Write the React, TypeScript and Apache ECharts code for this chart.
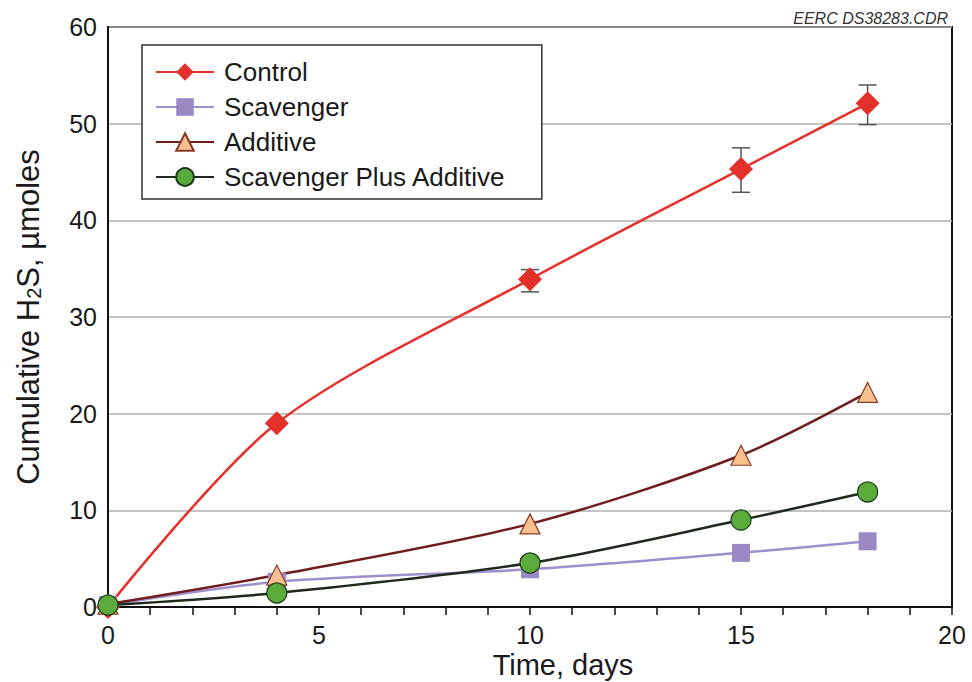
import React, { useEffect, useRef } from "react";
import * as echarts from "echarts";

// Sampling days
const days = [0, 4, 10, 15, 18];

// Cumulative H2S, µmoles
const controlValues = [0, 19.0, 33.9, 45.3, 52.1];
const scavengerValues = [0.2, 2.6, 3.9, 5.6, 6.8];
const additiveValues = [0.3, 3.3, 8.6, 15.7, 22.2];
const scavPlusAddValues = [0.2, 1.45, 4.55, 9.0, 11.9];

// Control error bars: [day, low, high]
const controlErrorDays = [10, 15, 18];
const controlErrorLow = [32.6, 42.9, 49.9];
const controlErrorHigh = [34.9, 47.5, 54.0];

const seriesNames = ["Control", "Scavenger", "Additive", "Scavenger Plus Additive"];
const xTicks = [0, 5, 10, 15, 20];
const yTicks = [0, 10, 20, 30, 40, 50, 60];

const FONT = "Liberation Sans, Arial, sans-serif";

function pairs(xs: number[], ys: number[]) {
  return xs.map((x, i) => [x, ys[i]]);
}

export default function App() {
  const ref = useRef<HTMLDivElement>(null);

  useEffect(() => {
    if (!ref.current) return;
    const chart = echarts.init(ref.current, undefined, { renderer: "svg" });

    const errorData = controlErrorDays.map((d, i) => [d, controlErrorLow[i], controlErrorHigh[i]]);

    chart.setOption({
      animation: false,
      backgroundColor: "#ffffff",
      textStyle: { fontFamily: FONT },
      grid: {
        left: 108,
        right: 20,
        top: 27,
        bottom: 75,
        show: true,
        borderColor: "#111",
        borderWidth: 2,
        backgroundColor: "transparent",
      },
      graphic: [
        {
          type: "text",
          right: 24,
          top: 10,
          style: {
            text: "EERC DS38283.CDR",
            font: "italic 16px " + FONT,
            fill: "#333",
          },
        },
        {
          type: "text",
          x: 563,
          y: 650,
          style: {
            text: "Time, days",
            font: "29px " + FONT,
            fill: "#1a1a1a",
            align: "center",
            verticalAlign: "top",
          },
        },
      ],
      legend: {
        orient: "vertical",
        left: 142,
        top: 45,
        padding: [14, 36, 9, 13],
        itemGap: 9,
        itemWidth: 58,
        itemHeight: 22,
        borderColor: "#333",
        borderWidth: 1.5,
        backgroundColor: "#fff",
        data: seriesNames,
        textStyle: { fontSize: 26, color: "#1a1a1a", fontFamily: FONT, padding: [0, 0, 0, 5] },
      },
      xAxis: {
        type: "value",
        min: 0,
        max: 20,
        interval: 5,
        axisLine: { show: true, onZero: false, lineStyle: { color: "#111", width: 2 } },
        axisTick: { show: true, inside: false, length: 8, lineStyle: { color: "#111", width: 1.5 } },
        minorTick: { show: true, splitNumber: 5, length: 8, lineStyle: { color: "#111", width: 1.5 } },
        splitLine: { show: false },
        axisLabel: {
          fontSize: 25,
          lineHeight: 25,
          color: "#1a1a1a",
          margin: 15,
          formatter: (v: number) => (xTicks.includes(v) ? String(v) : ""),
        },
      },
      yAxis: {
        type: "value",
        min: 0,
        max: 60,
        interval: 10,
        name: "Cumulative H{sub|2}S, µmoles",
        nameLocation: "middle",
        nameGap: 64,
        nameTextStyle: {
          fontSize: 31,
          color: "#1a1a1a",
          fontFamily: FONT,
          rich: {
            sub: { fontSize: 20, verticalAlign: "bottom", padding: [12, 0, 0, 0], fontFamily: FONT, color: "#1a1a1a" },
          },
        },
        axisLine: { show: true, onZero: false, lineStyle: { color: "#111", width: 2 } },
        axisTick: { show: false },
        splitLine: { show: true, lineStyle: { color: "#b0b0b0", width: 1.5 } },
        axisLabel: {
          fontSize: 25,
          color: "#1a1a1a",
          margin: 11,
          formatter: (v: number) => (yTicks.includes(v) ? String(v) : ""),
        },
      },
      series: [
        {
          type: "custom",
          name: "ControlError",
          z: 1,
          silent: true,
          data: errorData,
          renderItem: (params: any, api: any) => {
            const lo = api.coord([api.value(0), api.value(1)]);
            const hi = api.coord([api.value(0), api.value(2)]);
            const half = 9;
            const style = { stroke: "#555", lineWidth: 1.5 };
            return {
              type: "group",
              children: [
                { type: "line", shape: { x1: lo[0], y1: lo[1], x2: hi[0], y2: hi[1] }, style },
                { type: "line", shape: { x1: lo[0] - half, y1: lo[1], x2: lo[0] + half, y2: lo[1] }, style },
                { type: "line", shape: { x1: hi[0] - half, y1: hi[1], x2: hi[0] + half, y2: hi[1] }, style },
              ],
            };
          },
        },
        {
          name: seriesNames[0],
          type: "line",
          z: 3,
          smooth: 0.3,
          data: pairs(days, controlValues),
          symbol: "diamond",
          symbolSize: 24,
          lineStyle: { color: "#e8302a", width: 2.5 },
          itemStyle: { color: "#e3302b", borderColor: "#e3302b", borderWidth: 0 },
        },
        {
          name: seriesNames[1],
          type: "line",
          z: 3,
          smooth: 0.3,
          data: pairs(days, scavengerValues),
          symbol: "rect",
          symbolSize: 18,
          lineStyle: { color: "#9d90cc", width: 2.5 },
          itemStyle: { color: "#9b89c6", borderColor: "#9b89c6", borderWidth: 0 },
        },
        {
          name: seriesNames[2],
          type: "line",
          z: 3,
          smooth: 0.3,
          data: pairs(days, additiveValues),
          symbol: "triangle",
          symbolSize: 20,
          lineStyle: { color: "#6e1c1c", width: 2.5 },
          itemStyle: { color: "#f9c08e", borderColor: "#8b3a2a", borderWidth: 1.2 },
        },
        {
          name: seriesNames[3],
          type: "line",
          z: 3,
          smooth: 0.3,
          data: pairs(days, scavPlusAddValues),
          symbol: "circle",
          symbolSize: 20,
          lineStyle: { color: "#1d2a1d", width: 2.5 },
          itemStyle: { color: "#5bab3c", borderColor: "#1f3a1a", borderWidth: 1.2 },
        },
      ],
    });

    return () => chart.dispose();
  }, []);

  return <div ref={ref} style={{ width: 972, height: 682, position: "absolute", left: 0, top: 0 }} />;
}
